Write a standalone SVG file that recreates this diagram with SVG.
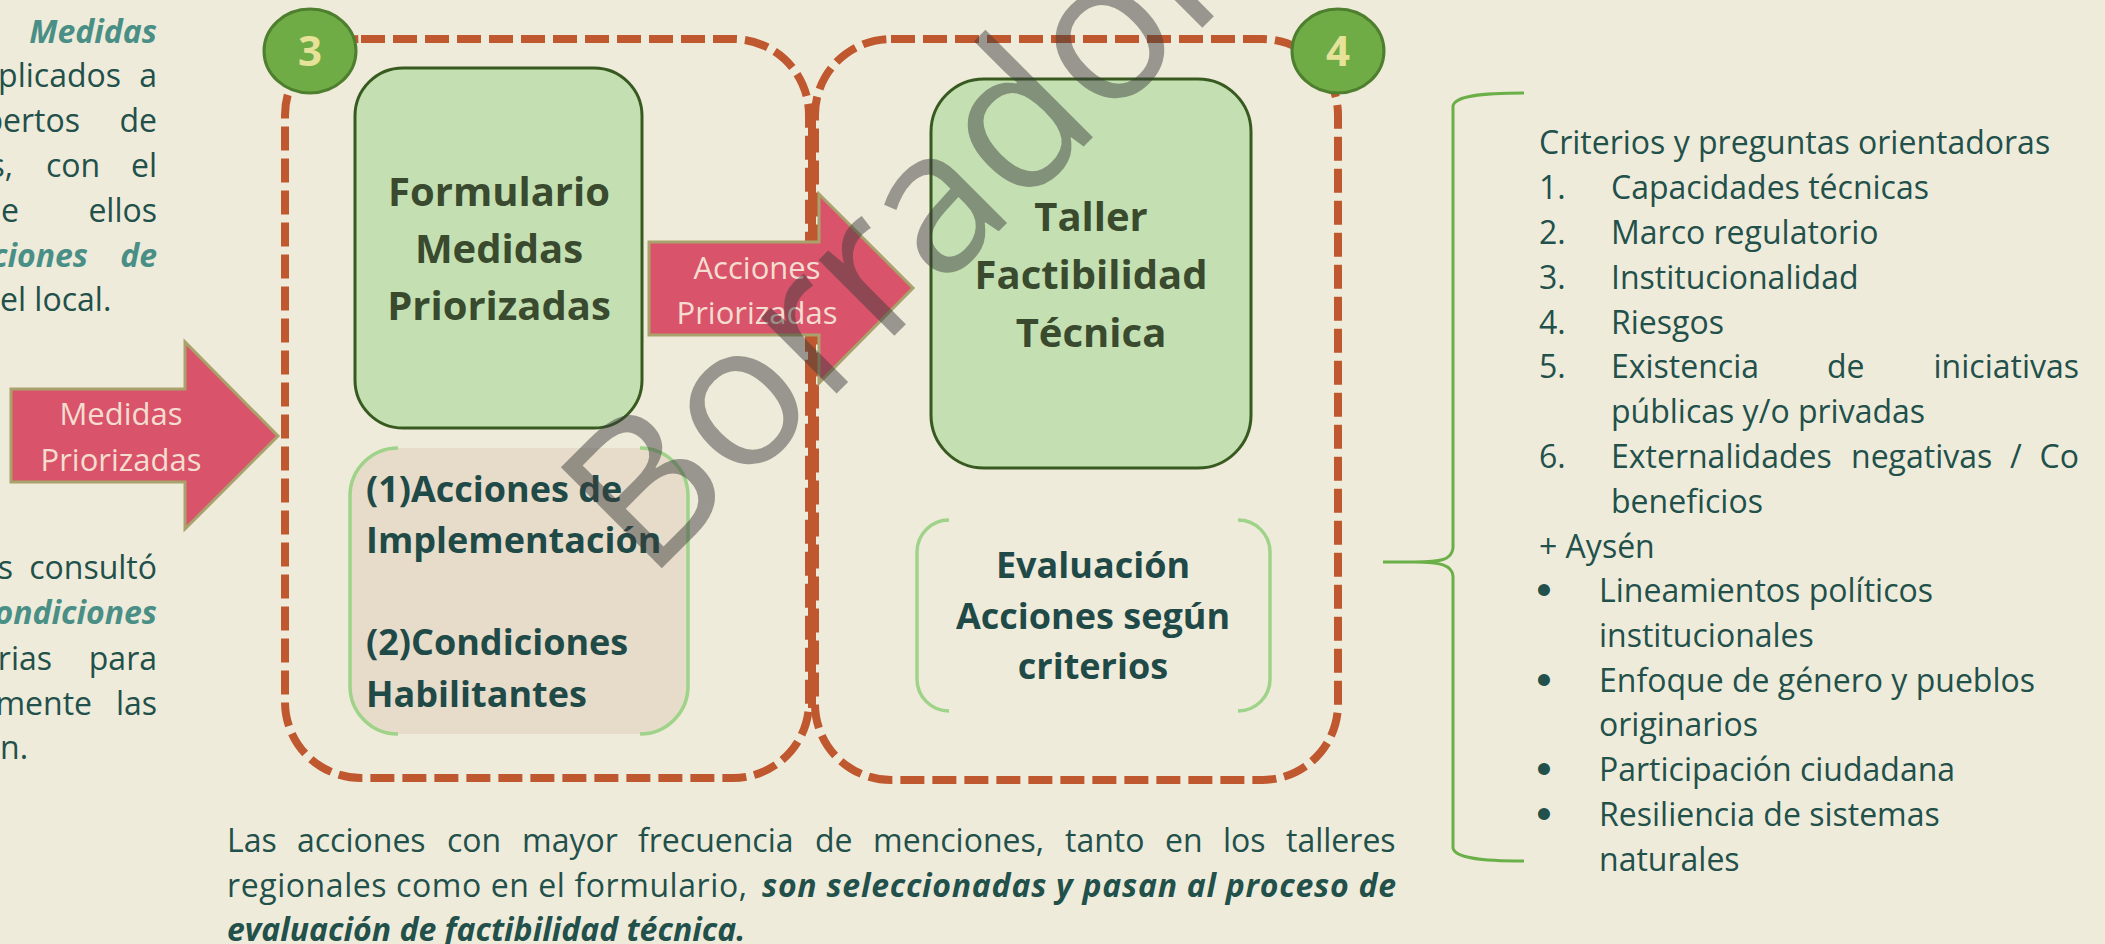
<svg xmlns="http://www.w3.org/2000/svg" width="2105" height="944" viewBox="0 0 2105 944">
<defs>
<style>
text{font-family:"Open Sans","Liberation Sans",sans-serif;}
.p{font-size:32px;fill:#22504A;}
.pe{font-size:32px;fill:#22504A;text-anchor:end;}
.hi{font-size:32px;fill:#4A8F86;font-weight:bold;font-style:italic;}
.hie{font-size:32px;fill:#4A8F86;font-weight:bold;font-style:italic;text-anchor:end;}
.bi{font-weight:bold;font-style:italic;}
.dash{fill:none;stroke:#C0582F;stroke-width:8;stroke-dasharray:24 8;}
.gbox{fill:#C4E0B2;stroke:#385A20;stroke-width:3;}
.title{font-size:40px;font-weight:bold;fill:#3A4A2E;text-anchor:middle;}
.sub{font-size:36px;font-weight:bold;fill:#1F4A47;}
.arrow{fill:#D9546A;stroke:#A9A26C;stroke-width:3;}
.atext{font-size:31px;fill:#F4DDD0;text-anchor:middle;}
.badge{fill:#6FAC46;stroke:#4E7F2E;stroke-width:3;}
.num{font-size:42px;font-weight:bold;fill:#E7E29A;text-anchor:middle;}
.brk{fill:none;stroke:#9FD38A;stroke-width:3.5;}
.bul{font-family:"Liberation Sans",sans-serif;font-size:44px;fill:#22504A;text-anchor:middle;}
</style>
</defs>
<rect x="0" y="0" width="2105" height="944" fill="#EFEBDA"/>

<g id="left-text">
<text class="hie" x="157" y="43">Medidas</text>
<text class="pe" x="121" y="87">plicados</text><text class="pe" x="157" y="87">a</text>
<text class="pe" x="80" y="132">pertos</text><text class="pe" x="157" y="132">de</text>
<text class="pe" x="13" y="177">s,</text><text class="p" x="46" y="177">con</text><text class="pe" x="157" y="177">el</text>
<text class="pe" x="19" y="222">e</text><text class="pe" x="157" y="222">ellos</text>
<text class="hie" x="88" y="267">ciones</text><text class="hie" x="157" y="267">de</text>
<text class="p" x="0" y="311">el local.</text>
<text class="pe" x="13" y="579">s</text><text class="pe" x="157" y="579">consultó</text>
<text class="hie" x="157" y="624">ondiciones</text>
<text class="pe" x="52" y="670">rias</text><text class="pe" x="157" y="670">para</text>
<text class="pe" x="92" y="715">mente</text><text class="pe" x="157" y="715">las</text>
<text class="p" x="0" y="759">n.</text>
</g>

<g id="box3">
<path class="dash" d="M361,39 H733 A76,76 0 0 1 809,115 V702 A76,76 0 0 1 733,778 H361 A76,76 0 0 1 285,702 V115 A76,76 0 0 1 361,39 Z"/>
</g>
<g id="box4">
<path class="dash" d="M891,39 H1262 A76,76 0 0 1 1338,115 V704 A76,76 0 0 1 1262,780 H891 A76,76 0 0 1 815,704 V115 A76,76 0 0 1 891,39 Z"/>
</g>
<line x1="812" y1="108" x2="812" y2="708" stroke="#C0582F" stroke-width="8"/>

<g id="badge3">
<ellipse class="badge" cx="310" cy="51" rx="46" ry="42"/>
<text class="num" x="310" y="66">3</text>
</g>
<g id="badge4">
<ellipse class="badge" cx="1338" cy="51" rx="46" ry="42"/>
<text class="num" x="1338" y="66">4</text>
</g>

<g id="formulario">
<rect class="gbox" x="355" y="68" width="287" height="360" rx="48" ry="48"/>
<text class="title" x="499" y="206">Formulario</text>
<text class="title" x="499" y="263">Medidas</text>
<text class="title" x="499" y="320">Priorizadas</text>
</g>

<g id="acciones-condiciones">
<rect x="350" y="448" width="338" height="286" rx="48" ry="48" fill="#E6DCC9"/>
<path class="brk" d="M398,448 A48,48 0 0 0 350,496 V686 A48,48 0 0 0 398,734"/>
<path class="brk" d="M640,448 A48,48 0 0 1 688,496 V686 A48,48 0 0 1 640,734"/>
<text class="sub" x="366" y="502">(1)Acciones de</text>
<text class="sub" x="366" y="553">Implementación</text>
<text class="sub" x="366" y="655">(2)Condiciones</text>
<text class="sub" x="366" y="707">Habilitantes</text>
</g>

<g id="taller">
<rect class="gbox" x="931" y="79" width="320" height="389" rx="53" ry="53"/>
<text class="title" x="1091" y="231">Taller</text>
<text class="title" x="1091" y="289">Factibilidad</text>
<text class="title" x="1091" y="347">Técnica</text>
</g>

<g id="evaluacion">
<path class="brk" d="M949,520 A32,32 0 0 0 917,552 V679 A32,32 0 0 0 949,711" stroke-width="3"/>
<path class="brk" d="M1238,520 A32,32 0 0 1 1270,552 V679 A32,32 0 0 1 1238,711" stroke-width="3"/>
<text class="sub" x="1093" y="578" text-anchor="middle">Evaluación</text>
<text class="sub" x="1093" y="629" text-anchor="middle">Acciones según</text>
<text class="sub" x="1093" y="679" text-anchor="middle">criterios</text>
</g>

<g id="connectors">
<g id="arrow-medidas">
<polygon class="arrow" points="11,389 185,389 185,342 278,436 185,529 185,482 11,482"/>
<text class="atext" x="121" y="425">Medidas</text>
<text class="atext" x="121" y="471">Priorizadas</text>
</g>
<g id="arrow-acciones">
<polygon class="arrow" points="649,242 819,242 819,194 913,288 819,383 819,335 649,335"/>
<text class="atext" x="757" y="279">Acciones</text>
<text class="atext" x="757" y="324">Priorizadas</text>
</g>
<path id="brace" d="M1524,93 C1480,93 1455,96 1453,106 V548 C1452,560 1440,562 1415,562 H1383 H1415 C1440,562 1452,565 1453,576 V848 C1455,858 1480,861 1524,861" fill="none" stroke="#6AAF48" stroke-width="3"/>
</g>

<g id="criterios">
<text class="p" x="1539" y="154">Criterios y preguntas orientadoras</text>
<text class="p" x="1539" y="199">1.</text><text class="p" x="1611" y="199">Capacidades técnicas</text>
<text class="p" x="1539" y="244">2.</text><text class="p" x="1611" y="244">Marco regulatorio</text>
<text class="p" x="1539" y="289">3.</text><text class="p" x="1611" y="289">Institucionalidad</text>
<text class="p" x="1539" y="334">4.</text><text class="p" x="1611" y="334">Riesgos</text>
<text class="p" x="1539" y="378">5.</text><text class="p" x="1611" y="378">Existencia</text><text class="p" x="1827" y="378">de</text><text class="pe" x="2079" y="378">iniciativas</text>
<text class="p" x="1611" y="423">públicas y/o privadas</text>
<text class="p" x="1539" y="468">6.</text><text class="p" x="1611" y="468">Externalidades</text><text class="p" x="1851" y="468">negativas</text><text class="p" x="2010" y="468">/</text><text class="pe" x="2079" y="468">Co</text>
<text class="p" x="1611" y="513">beneficios</text>
<text class="p" x="1539" y="558">+ Aysén</text>
<text class="bul" x="1544" y="605">•</text><text class="p" x="1599" y="602">Lineamientos políticos</text>
<text class="p" x="1599" y="647">institucionales</text>
<text class="bul" x="1544" y="695">•</text><text class="p" x="1599" y="692">Enfoque de género y pueblos</text>
<text class="p" x="1599" y="736">originarios</text>
<text class="bul" x="1544" y="784">•</text><text class="p" x="1599" y="781">Participación ciudadana</text>
<text class="bul" x="1544" y="829">•</text><text class="p" x="1599" y="826">Resiliencia de sistemas</text>
<text class="p" x="1599" y="871">naturales</text>
</g>

<g id="bottom-text">
<text class="p" y="852"><tspan x="227">Las</tspan><tspan x="297">acciones</tspan><tspan x="447">con</tspan><tspan x="522">mayor</tspan><tspan x="638">frecuencia</tspan><tspan x="815">de</tspan><tspan x="873">menciones,</tspan><tspan x="1065">tanto</tspan><tspan x="1165">en</tspan><tspan x="1223">los</tspan><tspan x="1286">talleres</tspan></text>
<text class="p" x="227" y="897" textLength="520" lengthAdjust="spacing">regionales como en el formulario,</text>
<text class="p bi" x="762" y="897" textLength="634" lengthAdjust="spacing">son seleccionadas y pasan al proceso de</text>
<text class="p bi" x="227" y="941">evaluación de factibilidad técnica.</text>
</g>

<text id="watermark" x="648" y="582" transform="rotate(-45 648 582)" font-size="200" fill="#3C3C3C" opacity="0.48">Borrador</text>
</svg>
